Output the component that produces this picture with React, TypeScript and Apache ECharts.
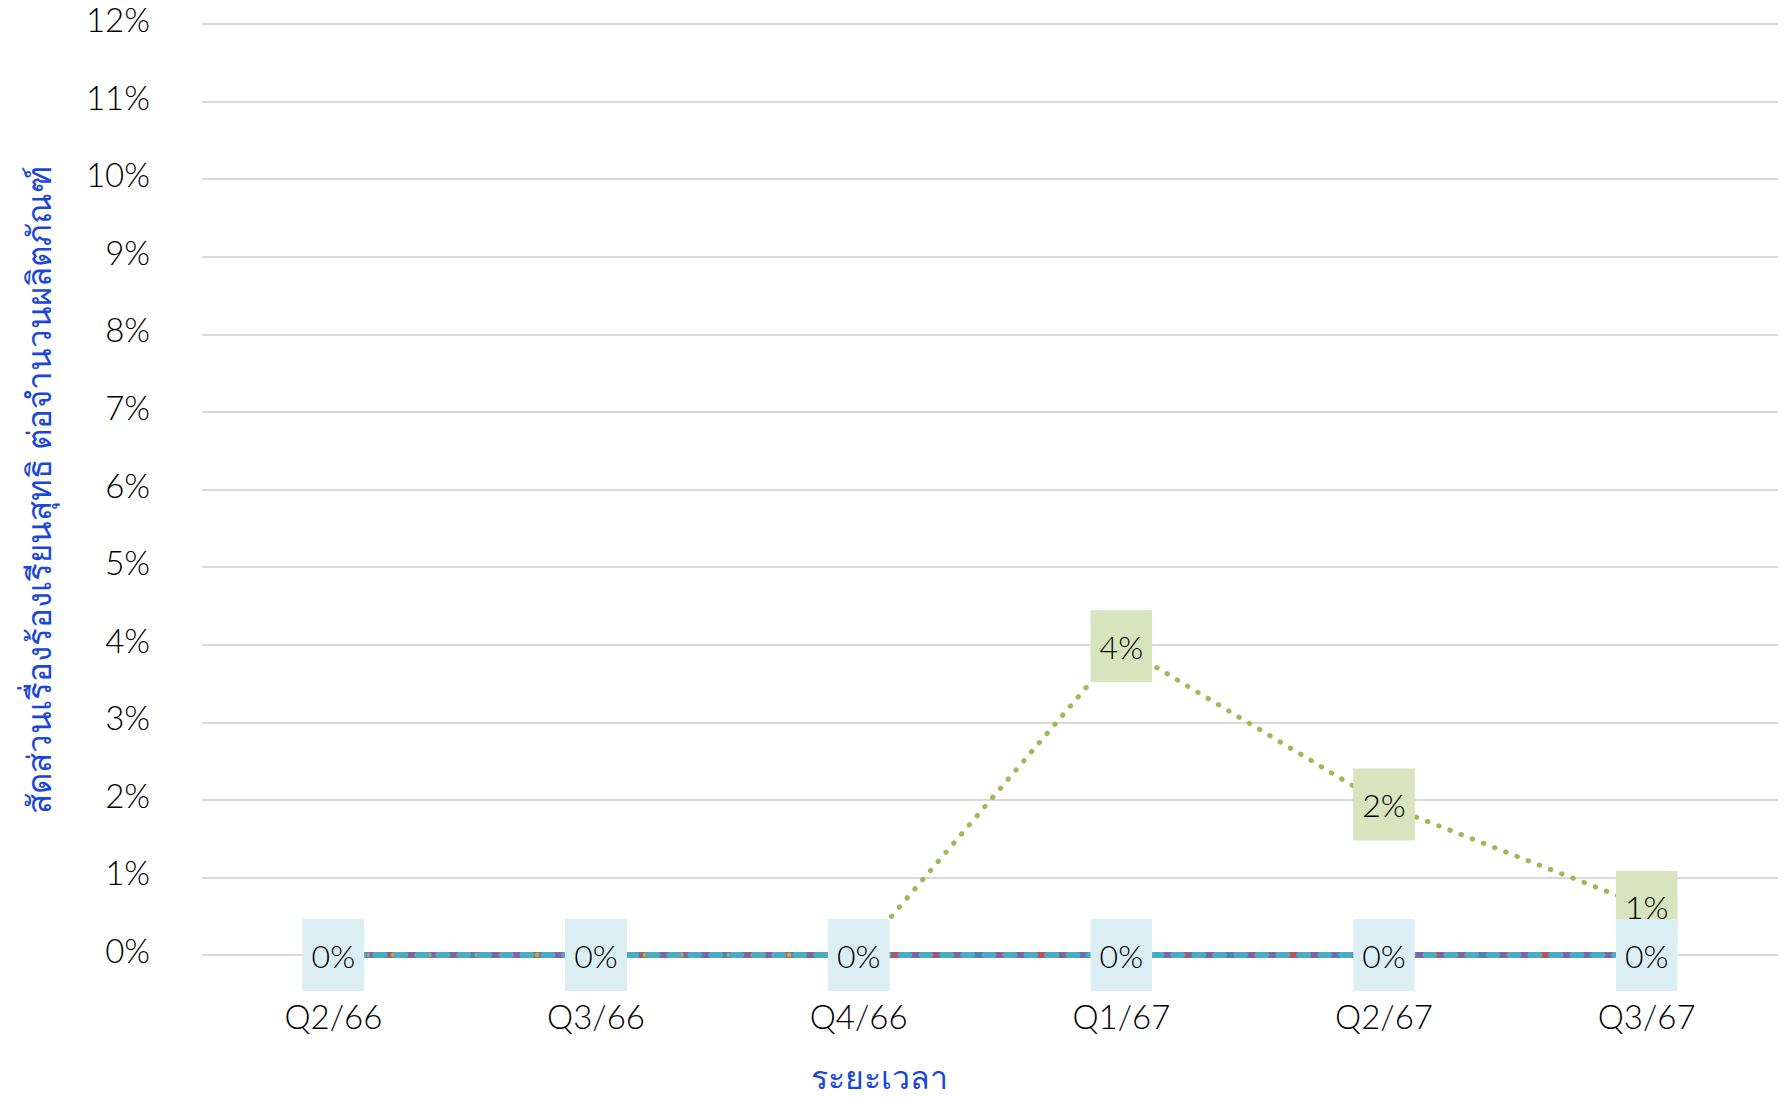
import React, { useEffect, useRef } from "react";
import * as echarts from "echarts";

const categories = ["Q2/66", "Q3/66", "Q4/66", "Q1/67", "Q2/67", "Q3/67"];
const yTicks = [0, 1, 2, 3, 4, 5, 6, 7, 8, 9, 10, 11, 12];
// values in percent
const seriesBlue = [0, 0, 0, 0, 0, 0];
const seriesRed = [0, 0, 0, 0, 0, 0];
const seriesGreen = [0, 0, 0, 3.98, 1.94, 0.62];
const seriesPurple = [0, 0, 0, 0, 0, 0];
const seriesAqua = [0, 0, 0, 0, 0, 0];

const xAxisTitle = "ระยะเวลา";
const yAxisTitle = "สัดส่วนเรื่องร้องเรียนสุทธิ ต่อจำนวนผลิตภัณฑ์";

const FONT = "Lato, 'Noto Sans', sans-serif";

export default function App() {
  const ref = useRef<HTMLDivElement>(null);
  useEffect(() => {
    if (!ref.current) return;
    const chart = echarts.init(ref.current, null, { renderer: "svg" });
    const labelCfg = (bg: string) => ({
      show: true,
      position: "inside",
      formatter: (p: any) => Math.round(p.value) + "%",
      fontFamily: FONT,
      fontSize: 32,
      fontWeight: 300,
      color: "#000",
      backgroundColor: bg,
      padding: [17, 9, 21, 9],
      lineHeight: 34,
    });
    chart.setOption({
      animation: false,
      grid: { left: 202, right: 10, top: 24, bottom: 143 },
      xAxis: {
        type: "category",
        data: categories,
        boundaryGap: true,
        axisLine: { show: false },
        axisTick: { show: false },
        axisLabel: { fontFamily: FONT, fontSize: 33, fontWeight: 300, color: "#000", margin: 44 },
      },
      yAxis: {
        type: "value",
        min: yTicks[0],
        max: yTicks[yTicks.length - 1],
        interval: 1,
        axisLine: { show: false },
        axisTick: { show: false },
        axisLabel: {
          fontFamily: FONT,
          fontSize: 33,
          fontWeight: 300,
          color: "#000",
          margin: 52,
          verticalAlign: "bottom",
          lineHeight: 10,
          formatter: "{value}%",
        },
        splitLine: { lineStyle: { color: "#d9d9d9", width: 2 } },
      },
      graphic: [
        {
          type: "text",
          x: 879,
          y: 1076,
          style: {
            text: xAxisTitle,
            fontFamily: FONT,
            fontSize: 32,
            fill: "#1a47d9",
            textAlign: "center",
            textVerticalAlign: "middle",
          },
        },
        {
          type: "text",
          x: 38,
          y: 490,
          rotation: Math.PI / 2,
          style: {
            text: yAxisTitle,
            fontFamily: FONT,
            fontSize: 33,
            fill: "#1a47d9",
            textAlign: "center",
            textVerticalAlign: "middle",
          },
        },
      ],
      series: [
        {
          type: "line",
          data: seriesBlue,
          symbol: "none",
          lineStyle: { color: "#4F81BD", width: 6 },
        },
        {
          type: "line",
          data: seriesRed,
          symbol: "none",
          lineStyle: { color: "#C0504D", width: 6, type: [12, 6] },
        },
        {
          type: "line",
          data: seriesGreen,
          symbol: "circle",
          symbolSize: 1,
          showSymbol: true,
          itemStyle: { color: "rgba(155,187,89,0)" },
          lineStyle: { color: "#9BBB59", width: 5, type: [0.5, 11.5], cap: "round" },
          label: labelCfg("#D7E4BD"),
        },
        {
          type: "line",
          data: seriesPurple,
          symbol: "none",
          lineStyle: { color: "#8064A2", width: 6, type: [20, 6, 4, 6] },
        },
        {
          type: "line",
          data: seriesAqua,
          symbol: "circle",
          symbolSize: 1,
          showSymbol: true,
          itemStyle: { color: "rgba(75,172,198,0)" },
          lineStyle: { color: "#4BACC6", width: 6, type: [9, 12], cap: "round" },
          label: labelCfg("#DAEEF3"),
        },
      ],
    });
    return () => chart.dispose();
  }, []);
  return <div ref={ref} style={{ width: 1788, height: 1098, position: "absolute", left: 0, top: 0 }} />;
}
